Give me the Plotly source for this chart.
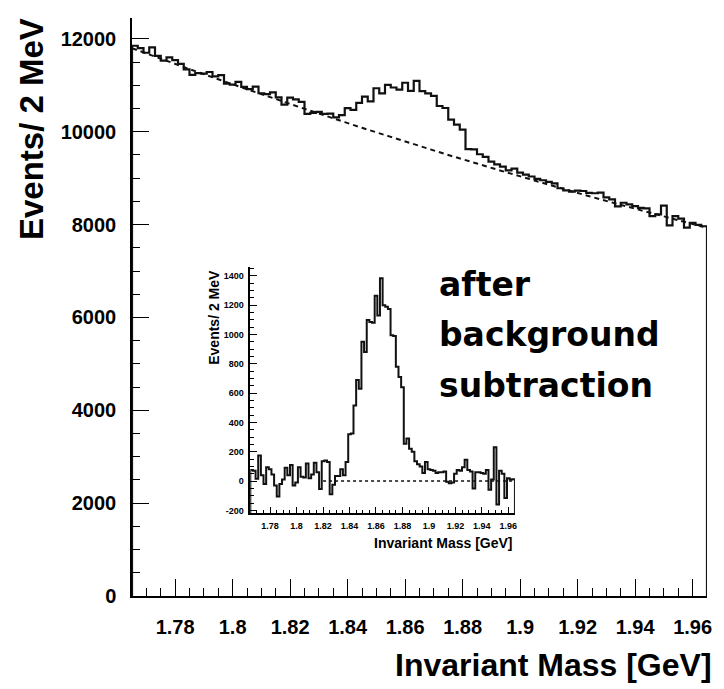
import plotly.graph_objects as go

# Binning: 100 bins of 2 MeV between 1.765 and 1.965 GeV
bin_lo = 1.765
bin_width = 0.002
n_bins = 100

# Events per bin (full spectrum)
counts = [
    11852, 11802, 11701, 11816, 11636, 11531, 11601, 11542, 11462, 11343,
    11224, 11264, 11250, 11287, 11193, 11219, 11036, 11013, 11075, 10967,
    10919, 10971, 10829, 10811, 10849, 10742, 10585, 10733, 10696, 10645,
    10383, 10407, 10426, 10385, 10389, 10308, 10357, 10507, 10472, 10621,
    10756, 10656, 10937, 10827, 11008, 10953, 10909, 11055, 10881, 11097,
    10874, 10825, 10772, 10554, 10511, 10263, 10155, 10047, 9625, 9622,
    9515, 9458, 9356, 9299, 9247, 9166, 9204, 9118, 9077, 9036,
    8985, 8955, 8919, 8889, 8783, 8738, 8708, 8733, 8724, 8684,
    8675, 8690, 8586, 8542, 8393, 8470, 8436, 8397, 8359, 8351,
    8183, 8220, 8407, 7985, 8182, 8130, 7933, 8036, 7994, 7964,
]

# Events per bin after the background fit is subtracted
subtracted = [
    75, 70, 15, 175, 40, -20, 95, 80, 45, -30,
    -105, -20, 10, 90, 40, 110, -30, -10, 95, 30,
    25, 120, 20, 45, 125, 60, -55, 135, 140, 130,
    -90, -25, 35, 35, 80, 40, 130, 320, 325, 515,
    690, 630, 950, 880, 1100, 1085, 1080, 1265, 1130, 1385,
    1200, 1190, 1175, 995, 990, 780, 710, 640, 255, 290,
    220, 200, 135, 115, 100, 55, 130, 80, 75, 70,
    55, 60, 60, 65, -5, -15, -10, 50, 75, 70,
    95, 145, 75, 65, -50, 60, 60, 55, 50, 75,
    -60, 10, 230, -160, 70, 50, -115, 20, 10, 12,
]

# Background fit curve
bg_mass = [1.765, 1.775, 1.785, 1.795, 1.805, 1.815, 1.825, 1.835, 1.845, 1.855,
           1.865, 1.875, 1.885, 1.895, 1.905, 1.915, 1.925, 1.935, 1.945, 1.955, 1.965]
bg_level = [11800, 11575, 11350, 11130, 10915, 10705, 10495, 10290, 10085, 9890,
            9695, 9500, 9315, 9130, 8950, 8770, 8595, 8425, 8260, 8095, 7935]

# Zero reference for the subtracted spectrum
zero_mass = [1.82, 1.965]
zero_level = [0, 0]

x_tick_labels = ["1.78", "1.8", "1.82", "1.84", "1.86", "1.88", "1.9", "1.92", "1.94", "1.96"]
y_tick_labels = ["0", "2000", "4000", "6000", "8000", "10000", "12000"]
inset_y_tick_labels = ["-200", "0", "200", "400", "600", "800", "1000", "1200", "1400"]

main_y_range = [0, 12450]
inset_y_range = [-218, 1459]
mass_range = [1.765, 1.965]

edges = [bin_lo + k * bin_width for k in range(n_bins + 1)]


def outline(values, floor):
    """Step outline of a histogram, closed down to the frame floor at both ends."""
    xs = [edges[0]] + edges[:-1] + [edges[-1]]
    ys = [floor] + list(values) + [floor]
    return xs, ys


INK = "#111111"
AX_FONT = "Liberation Sans"

fig = go.Figure()

hx, hy = outline(counts, main_y_range[0])
fig.add_trace(go.Scatter(x=hx, y=hy, mode="lines", line=dict(color=INK, width=2.2, shape="hv"),
                         xaxis="x", yaxis="y", hoverinfo="skip"))
fig.add_trace(go.Scatter(x=bg_mass, y=bg_level, mode="lines",
                         line=dict(color=INK, width=2, dash="5px,4px", shape="spline"),
                         xaxis="x", yaxis="y", hoverinfo="skip"))

sx, sy = outline(subtracted, inset_y_range[0])
fig.add_trace(go.Scatter(x=zero_mass, y=zero_level, mode="lines",
                         line=dict(color=INK, width=1.5, dash="3px,3px"),
                         xaxis="x2", yaxis="y2", hoverinfo="skip"))
fig.add_trace(go.Scatter(x=sx, y=sy, mode="lines", line=dict(color=INK, width=2, shape="hv"),
                         xaxis="x2", yaxis="y2", hoverinfo="skip"))


def axis_style(size, major_len, minor_len, minor_dtick, minor_tick0, standoff):
    return dict(
        showline=True, linecolor="black", linewidth=1.5,
        showgrid=False, zeroline=False,
        ticks="inside", ticklen=major_len, tickwidth=1.2, tickcolor="black",
        tickfont=dict(family=AX_FONT, size=size, color="black", weight="bold"),
        ticklabelstandoff=standoff,
        minor=dict(ticks="inside", ticklen=minor_len, tickwidth=1.2, tickcolor="black",
                   tickmode="linear", tick0=minor_tick0, dtick=minor_dtick, showgrid=False),
    )


xaxis = axis_style(20, 17, 8, 0.005, 1.765, 12)
xaxis.update(range=mass_range, domain=[0, 1], anchor="y",
             tickmode="array", tickvals=[float(s) for s in x_tick_labels], ticktext=x_tick_labels)
yaxis = axis_style(20, 17, 8, 500, 0, 10)
yaxis.update(range=main_y_range, domain=[0, 1], anchor="x",
             tickmode="array", tickvals=[float(s) for s in y_tick_labels], ticktext=y_tick_labels)

xaxis2 = axis_style(9, 6, 3, 0.005, 1.765, 3)
xaxis2.update(range=mass_range, domain=[0.2057, 0.666], anchor="y2",
              tickmode="array", tickvals=[float(s) for s in x_tick_labels], ticktext=x_tick_labels)
yaxis2 = axis_style(9, 7, 3.5, 50, 0, 3)
yaxis2.update(range=inset_y_range, domain=[0.1436, 0.5687], anchor="x2",
              tickmode="array", tickvals=[float(s) for s in inset_y_tick_labels],
              ticktext=inset_y_tick_labels)


def label(text, x, y, size, xanchor, yanchor, angle=0, family=AX_FONT):
    return dict(text=text, x=x, y=y, xref="paper", yref="paper", showarrow=False,
                xanchor=xanchor, yanchor=yanchor, textangle=angle,
                font=dict(family=family, size=size, color="black", weight="bold"))


annotations = [
    label("Events/ 2 MeV", -0.176, 1.003, 33, "center", "top", -90),
    label("Invariant Mass [GeV]", 1.012, -0.1194, 32, "right", "middle"),
    label("Events/ 2 MeV", 0.1431, 0.5675, 14, "center", "top", -90),
    label("Invariant Mass [GeV]", 0.6655, 0.0917, 14, "right", "middle"),
    label("after", 0.531, 0.539, 33, "left", "middle", family="DejaVu Sans"),
    label("background", 0.531, 0.452, 33, "left", "middle", family="DejaVu Sans"),
    label("subtraction", 0.531, 0.365, 33, "left", "middle", family="DejaVu Sans"),
]

fig.update_layout(
    width=724, height=689,
    margin=dict(l=132, r=12, t=18, b=93),
    paper_bgcolor="white", plot_bgcolor="white",
    showlegend=False,
    xaxis=xaxis, yaxis=yaxis, xaxis2=xaxis2, yaxis2=yaxis2,
    annotations=annotations,
)

fig.write_html("out.html")
